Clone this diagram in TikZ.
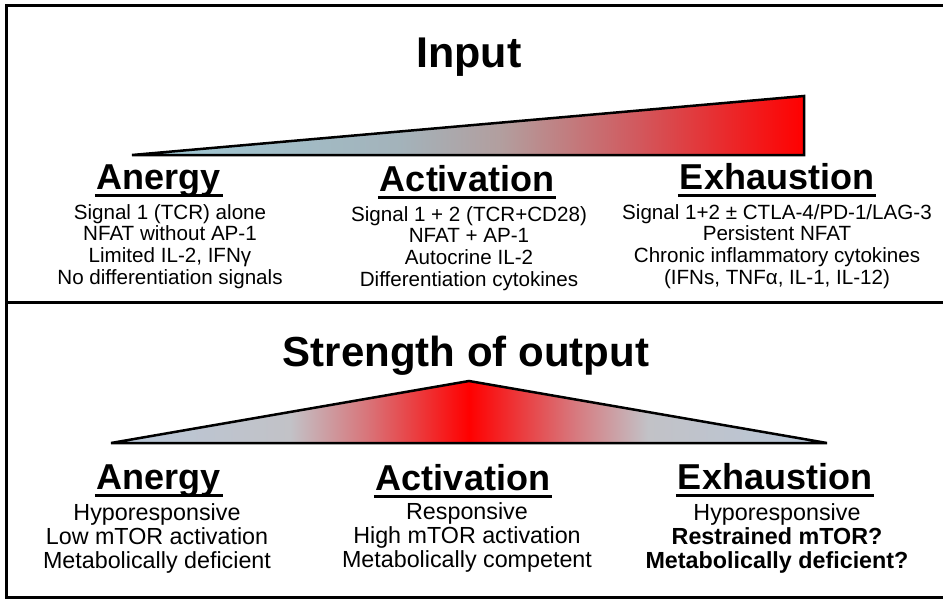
\documentclass[tikz,border=0pt]{standalone}
\usepackage{fontspec}
\setmainfont{Liberation Sans}
\pgfdeclarehorizontalshading{inputshade}{100bp}{rgb(0bp)=(0.62,0.79,0.84); rgb(25bp)=(0.62,0.79,0.84); rgb(45bp)=(0.64,0.70,0.73); rgb(52.5bp)=(0.70,0.62,0.62); rgb(62.5bp)=(0.82,0.35,0.37); rgb(75bp)=(1,0,0); rgb(100bp)=(1,0,0)}
\pgfdeclarehorizontalshading{outputshade}{100bp}{rgb(0bp)=(0.72,0.78,0.85); rgb(25bp)=(0.72,0.78,0.85); rgb(37.5bp)=(0.76,0.76,0.78); rgb(43bp)=(0.85,0.45,0.47); rgb(50bp)=(1,0,0); rgb(57bp)=(0.85,0.45,0.47); rgb(62.5bp)=(0.76,0.76,0.78); rgb(75bp)=(0.72,0.78,0.85); rgb(100bp)=(0.72,0.78,0.85)}
\tikzset{
  frame/.style={line width=3pt},
  tri/.style={draw=black, line width=2.5pt, line join=miter},
  title/.style={font=\fontsize{43}{48}\selectfont\bfseries, inner sep=0pt, anchor=base},
  head/.style={font=\fontsize{36}{40}\selectfont\bfseries, inner sep=0pt, anchor=base},
  uline/.style={line width=3pt},
  topbody/.style={font=\fontsize{20.6}{21.8}\selectfont, inner sep=0pt, anchor=north, align=center},
  botbody/.style={font=\fontsize{23.3}{24}\selectfont, inner sep=0pt, anchor=north, align=center}
}
\begin{document}
\begin{tikzpicture}[x=1pt,y=-1pt]
\useasboundingbox (0,0) rectangle (943,600);
% frame
\draw[frame] (6,5) rectangle (950,597);
\draw[frame] (6,302.5) -- (950,302.5);
% input section
\node[title] (input) at (469,67) {Input};
\shade[shading=inputshade, tri] (132,155) -- (804,155) -- (804,96) -- cycle;
\node[head] (h1) at (159,189) {Anergy};
\node[head] (h2) at (467,191) {Activation};
\node[head] (h3) at (777,189) {Exhaustion};
\foreach \h in {h1,h2,h3}
  \draw[uline] ([xshift=-2pt,yshift=-6pt]\h.base west) -- ([xshift=2pt,yshift=-6pt]\h.base east);
\node[topbody] (b1) at (170,204) {Signal 1 (TCR) alone\\NFAT without AP-1\\Limited IL-2, IFNγ\\No differentiation signals};
\node[topbody] (b2) at (469,206) {Signal 1 + 2 (TCR+CD28)\\NFAT + AP-1\\Autocrine IL-2\\Differentiation cytokines};
\node[topbody] (b3) at (777,204) {Signal 1+2 ± CTLA-4/PD-1/LAG-3\\Persistent NFAT\\Chronic inflammatory cytokines\\(IFNs, TNFα, IL-1, IL-12)};
% output section
\node[title, font=\fontsize{42}{48}\selectfont\bfseries] (output) at (466,366) {Strength of output};
\shade[shading=outputshade, tri] (111,443) -- (469,381) -- (827,443) -- cycle;
\node[head] (g1) at (159,489) {Anergy};
\node[head] (g2) at (463,490) {Activation};
\node[head] (g3) at (775,489) {Exhaustion};
\foreach \h in {g1,g2,g3}
  \draw[uline] ([xshift=-2pt,yshift=-6pt]\h.base west) -- ([xshift=2pt,yshift=-6pt]\h.base east);
\node[botbody] (c1) at (157,503) {Hyporesponsive\\Low mTOR activation\\Metabolically deficient};
\node[botbody] (c2) at (467,502) {Responsive\\High mTOR activation\\Metabolically competent};
\node[botbody] (c3) at (777,503) {Hyporesponsive\\\textbf{Restrained mTOR?}\\\textbf{Metabolically deficient?}};
\end{tikzpicture}
\end{document}
